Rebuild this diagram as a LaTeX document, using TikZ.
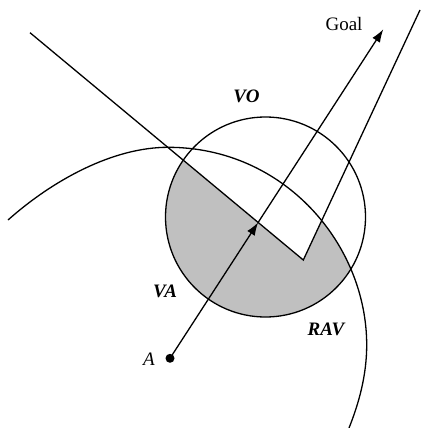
\documentclass[tikz,border=0pt]{standalone}
\usepackage{fontspec}
\setmainfont{Liberation Serif}
\usetikzlibrary{arrows.meta}
\definecolor{regiongray}{HTML}{C0C0C0}
\begin{document}
\begin{tikzpicture}[x=1pt,y=-1pt,line width=1.3pt,
  lab/.style={font=\fontsize{19}{22}\selectfont\bfseries\itshape,inner sep=0pt},
  plainlab/.style={font=\fontsize{19}{22}\selectfont,inner sep=0pt},
  arr/.style={-{Latex[length=13pt,width=9pt]}}]
\useasboundingbox (0,0) rectangle (421,428);
\coordinate (L) at (30,32.7);
\coordinate (V) at (303.3,260);
\coordinate (R) at (420,10);
\coordinate (O) at (265.5,217);
\coordinate (A) at (170,358.3);
\coordinate (G) at (383.3,29.3);
\coordinate (X) at (intersection of A--G and L--V);
\begin{scope}
  \clip (L) -- (V) -- (R) -- (500,10) -- (500,500) -- (-100,500) -- (-100,32.7) -- cycle;
  \clip (8,220) .. controls (53,180) and (113,147.3) .. (168,147.3)
        .. controls (285,147.3) and (366.7,245) .. (366.7,345)
        .. controls (366.7,375) and (359,403) .. (349,428)
        -- (349,500) -- (-100,500) -- (-100,220) -- cycle;
  \fill[fill=regiongray] (O) circle[radius=100];
\end{scope}
\draw (O) circle[radius=100];
\draw (8,220) .. controls (53,180) and (113,147.3) .. (168,147.3)
      .. controls (285,147.3) and (366.7,245) .. (366.7,345)
      .. controls (366.7,375) and (359,403) .. (349,428);
\draw (L) -- (V) -- (R);
\draw[arr] (A) -- (X);
\draw[arr] (X) -- (G);
\fill (A) circle[radius=4.5];
\node[plainlab] (goal) at (344,24.5) {Goal};
\node[lab] (vo) at (246.5,96) {VO};
\node[lab] (va) at (165,291) {VA};
\node[lab] (rav) at (326,329) {RAV};
\node[plainlab,font=\fontsize{19}{22}\selectfont\itshape] (alab) at (149,359) {A};
\end{tikzpicture}
\end{document}
